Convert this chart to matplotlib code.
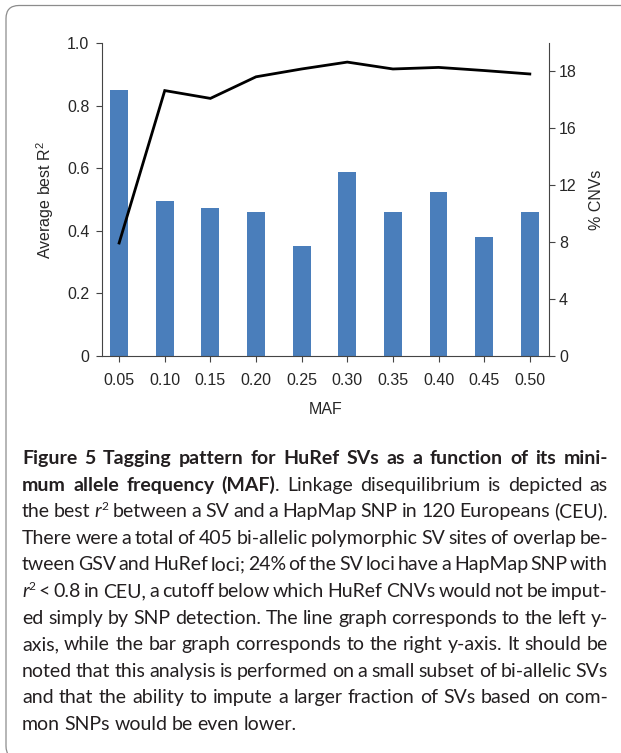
import matplotlib
matplotlib.use('Agg')
import matplotlib.pyplot as plt
from matplotlib.patches import FancyBboxPatch

# Chart data
maf = ['0.05', '0.10', '0.15', '0.20', '0.25', '0.30', '0.35', '0.40', '0.45', '0.50']
pct_cnvs = [18.7, 10.9, 10.4, 10.1, 7.7, 12.9, 10.1, 11.5, 8.4, 10.1]
best_r2 = [0.361, 0.848, 0.823, 0.892, 0.917, 0.939, 0.917, 0.922, 0.912, 0.901]

r2_ticks = [0, 0.2, 0.4, 0.6, 0.8, 1.0]
r2_tick_labels = ['0', '0.2', '0.4', '0.6', '0.8', '1.0']
pct_ticks = [0, 4, 8, 12, 16, 20]
pct_tick_labels = ['0', '4', '8', '12', '16', '18']

# Caption: each line is a list of (text, style) runs
# b = bold, n = normal, i = italic, s = superscript
caption = [
    [('Figure 5 Tagging pattern for HuRef SVs as a function of its mini-', 'b')],
    [('mum allele frequency (MAF)', 'b'), ('. Linkage disequilibrium is depicted as', 'n')],
    [('the best ', 'n'), ('r', 'i'), ('2', 's'),
     (' between a SV and a HapMap SNP in 120 Europeans (CEU).', 'n')],
    [('There were a total of 405 bi-allelic polymorphic SV sites of overlap be-', 'n')],
    [('tween GSV and HuRef loci; 24% of the SV loci have a HapMap SNP with', 'n')],
    [('r', 'i'), ('2', 's'),
     (' < 0.8 in CEU, a cutoff below which HuRef CNVs would not be imput-', 'n')],
    [('ed simply by SNP detection. The line graph corresponds to the left y-', 'n')],
    [('axis, while the bar graph corresponds to the right y-axis. It should be', 'n')],
    [('noted that this analysis is performed on a small subset of bi-allelic SVs', 'n')],
    [('and that the ability to impute a larger fraction of SVs based on com-', 'n')],
    [('mon SNPs would be even lower.', 'n')],
]

W, H = 621, 753
plt.rcParams['font.family'] = ['Liberation Sans', 'DejaVu Sans']
plt.rcParams['mathtext.default'] = 'regular'

fig = plt.figure(figsize=(W / 100, H / 100), dpi=100)

# rounded frame around the figure (right and bottom edges run off the image)
frame = FancyBboxPatch((0.06, -0.06), 6.6, 7.535,
                       boxstyle='round,pad=0,rounding_size=0.13',
                       transform=fig.dpi_scale_trans, fill=False,
                       edgecolor='#8c8c8c', linewidth=0.9)
fig.patches.append(frame)

ax = fig.add_axes([0.1639, 0.5272, 0.7194, 0.4157])
ax2 = ax.twinx()

x = list(range(len(maf)))
ax2.bar(x, pct_cnvs, width=0.39, color='#4a7ebb')
ax.plot(x, best_r2, color='black', linewidth=2.0, solid_joinstyle='miter')

# line on top of bars
ax.set_zorder(ax2.get_zorder() + 1)
ax.patch.set_visible(False)

ax.set_xlim(-0.38, 9.41)
ax.set_ylim(0, 1.0)
ax2.set_ylim(0, 22)

axis_col = '#444444'
txt_col = '#262626'
for a in (ax, ax2):
    a.spines['top'].set_visible(False)
    for s in a.spines.values():
        s.set_color(axis_col)
        s.set_linewidth(0.8)
ax.spines['right'].set_visible(False)
ax2.spines['left'].set_visible(False)
ax2.spines['bottom'].set_visible(False)

ax.set_xticks(x)
ax.set_xticklabels(maf)
ax.set_yticks(r2_ticks)
ax.set_yticklabels(r2_tick_labels)
ax2.set_yticks(pct_ticks)
ax2.set_yticklabels(pct_tick_labels)

ax.tick_params(axis='x', direction='out', length=4, width=0.8, color=axis_col,
               pad=8.5, labelsize=11.5, labelcolor=txt_col)
ax.tick_params(axis='y', direction='out', length=4, width=0.8, color=axis_col,
               pad=5, labelsize=11.5, labelcolor=txt_col)
ax2.tick_params(axis='y', direction='out', length=4, width=0.8, color=axis_col,
                pad=3.5, labelsize=11.5, labelcolor=txt_col)

ax.set_xlabel('MAF', fontsize=11.5, color=txt_col, labelpad=10)
ax.set_ylabel('Average best R$^2$', fontsize=11.5, color=txt_col, labelpad=8)
ax2.set_ylabel('% CNVs', fontsize=11.5, color=txt_col, labelpad=9)

# ---- justified caption ----
cap_font = ['Lato', 'DejaVu Sans']
cap_size = 14.0
cap_col = '#231f20'
x_left, x_right = 22, 608
base0, step = 464, 26.6

renderer = fig.canvas.get_renderer()


def make_piece(text, st):
    size = cap_size * 0.62 if st == 's' else cap_size
    t = fig.text(0, 0, text, fontsize=size, family=cap_font, color=cap_col,
                 fontweight='bold' if st == 'b' else 'normal',
                 fontstyle='italic' if st == 'i' else 'normal',
                 va='baseline', ha='left')
    w = t.get_window_extent(renderer).width
    return t, w, st


space_w = cap_size * 100 / 72 * 0.23

for i, runs in enumerate(caption):
    words = [[]]
    for text, st in runs:
        parts = text.split(' ')
        for k, p in enumerate(parts):
            if k > 0:
                words.append([])
            if p:
                words[-1].append(make_piece(p, st))
    words = [w for w in words if w]
    widths = [sum(p[1] for p in w) for w in words]
    last = i == len(caption) - 1
    if last or len(words) < 2:
        gap = space_w
    else:
        gap = (x_right - x_left - sum(widths)) / (len(words) - 1)
    y = H - (base0 + step * i)
    cx = x_left
    for w, ww in zip(words, widths):
        px = cx
        for t, pw, st in w:
            py = y + (cap_size * 100 / 72 * 0.38 if st == 's' else 0)
            t.set_position((px / W, py / H))
            px += pw
        cx += ww + gap

fig.savefig('out.png', dpi=100)
